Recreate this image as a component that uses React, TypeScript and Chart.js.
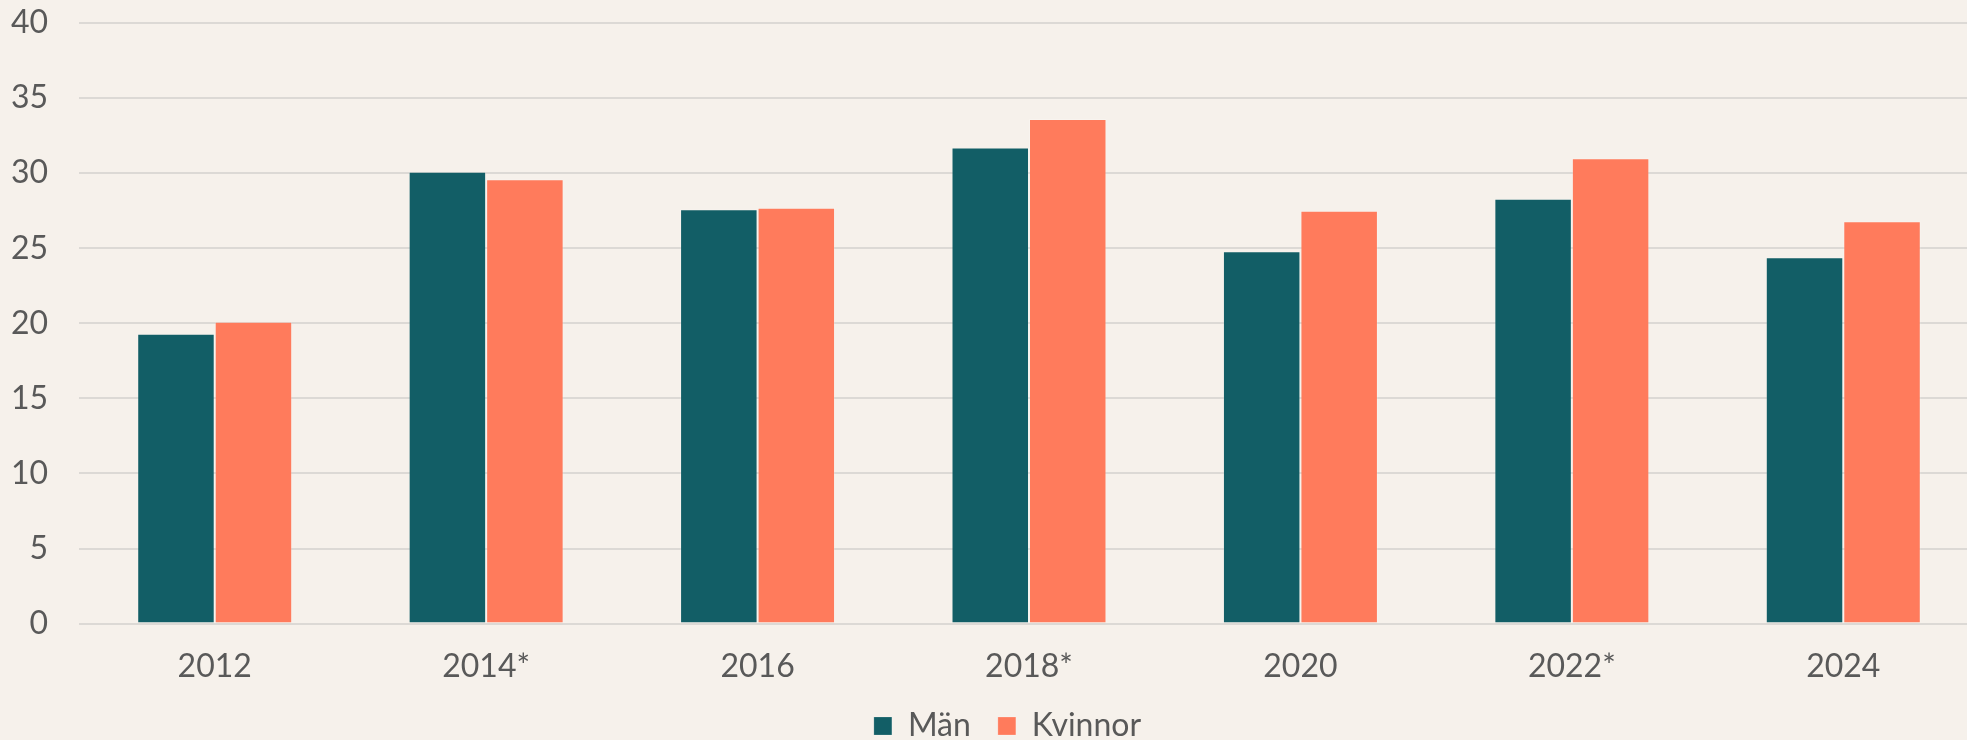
import React, { useEffect, useRef } from "react";
import { Chart, registerables } from "chart.js";
Chart.register(...registerables);

const categories = ["2012", "2014*", "2016", "2018*", "2020", "2022*", "2024"];
const manValues = [19.3, 30.1, 27.6, 31.7, 24.8, 28.3, 24.4];
const kvinnorValues = [20.1, 29.6, 27.7, 33.6, 27.5, 31.0, 26.8];
const seriesNames = ["Män", "Kvinnor"];
const yMax = 40;
const yStep = 5;

const BG = "#F6F1EB";
const TEXT = "#595959";
const FONT = "Lato, 'Open Sans', sans-serif";

const legendShift = {
  id: "legendShift",
  afterLayout(chart: any) {
    const l = chart.legend;
    if (!l) return;
    l.left += 18;
    l.right += 18;
    l.top -= 27;
    l.bottom -= 27;
  },
};

export default function App() {
  const ref = useRef<HTMLCanvasElement>(null);
  useEffect(() => {
    document.body.style.margin = "0";
    document.body.style.background = BG;
    const chart = new Chart(ref.current!, {
      type: "bar",
      data: {
        labels: categories,
        datasets: [
          {
            label: seriesNames[0],
            data: manValues,
            backgroundColor: "#125E66",
            borderColor: "rgba(255,255,255,0.18)",
            borderWidth: 1,
            categoryPercentage: 0.571,
            barPercentage: 1,
          },
          {
            label: seriesNames[1],
            data: kvinnorValues,
            backgroundColor: "#FF7B5C",
            borderColor: "rgba(255,255,255,0.22)",
            borderWidth: 1,
            categoryPercentage: 0.571,
            barPercentage: 1,
          },
        ],
      },
      plugins: [legendShift],
      options: {
        responsive: false,
        animation: false,
        devicePixelRatio: 1,
        layout: { padding: { top: 23, left: 0, right: 0, bottom: -39 } },
        plugins: {
          tooltip: { enabled: false },
          legend: {
            position: "bottom",
            labels: {
              color: TEXT,
              font: { family: FONT, size: 32 },
              boxWidth: 18,
              boxHeight: 18,
              padding: 27,
            },
          },
        },
        scales: {
          x: {
            grid: { display: false, drawTicks: false },
            border: { display: false },
            ticks: {
              color: TEXT,
              font: { family: FONT, size: 32 },
              padding: 24,
              maxRotation: 0,
            },
          },
          y: {
            min: 0,
            max: yMax,
            afterFit: (s: any) => {
              s.width = 79;
            },
            grid: {
              color: "#DCD9D5",
              lineWidth: 2,
              drawTicks: true,
              tickLength: 31,
              tickColor: "rgba(0,0,0,0)",
            },
            border: { display: false },
            ticks: {
              stepSize: yStep,
              color: TEXT,
              font: { family: FONT, size: 32 },
              padding: 0,
            },
          },
        },
      },
    });
    return () => chart.destroy();
  }, []);
  return (
    <div style={{ width: 1967, height: 740, overflow: "hidden", background: BG }}>
      <canvas ref={ref} width={1979} height={740} style={{ display: "block" }} />
    </div>
  );
}
